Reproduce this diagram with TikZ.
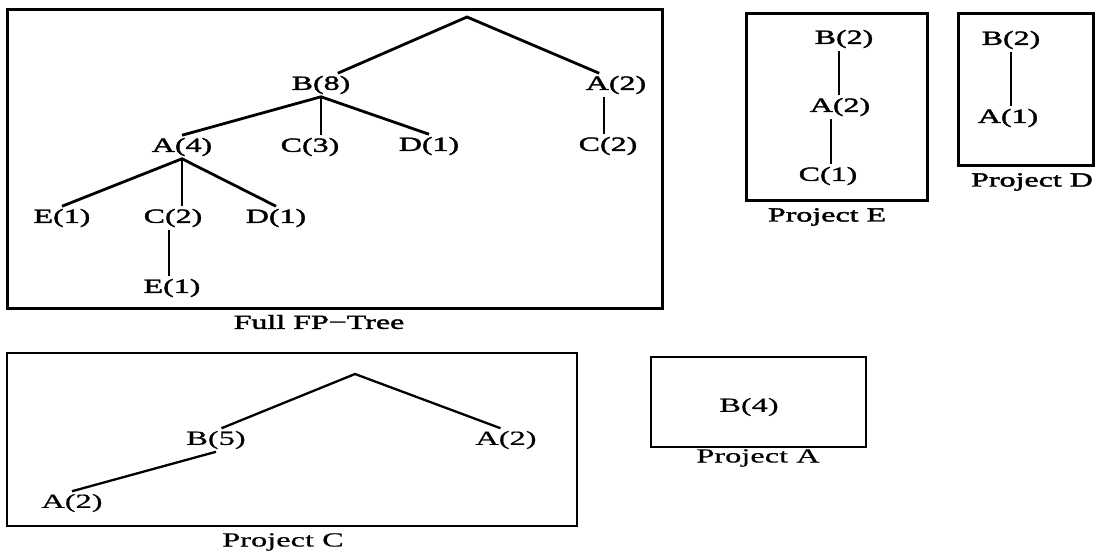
\documentclass[tikz,border=0pt]{standalone}
\usepackage{fontspec}
\setmainfont{Liberation Serif}
\newfontfamily\topfont[FakeStretch=1.6,FakeBold=2]{Liberation Serif}
\newfontfamily\botfont[FakeStretch=1.62,FakeBold=0.6]{Liberation Serif}
\begin{document}
\begin{tikzpicture}[x=1pt,y=-1pt,
  lbl/.style={font=\topfont\fontsize{20}{22}\selectfont, inner sep=2.5pt},
  lblb/.style={font=\botfont\fontsize{20}{22}\selectfont, inner sep=2.5pt},
  edge/.style={line width=2.8pt},
  edgethin/.style={line width=1.4pt},
  edgeb/.style={line width=2.3pt},
  frame/.style={draw, line width=3pt},
  frameb/.style={draw, line width=2.4pt}]
\useasboundingbox (0,0) rectangle (1097,555);

% ---------- Full FP-Tree ----------
\draw[frame] (7,9) rectangle (662,308);
\node[lbl] (tfull) at (319,322) {Full FP−Tree};
\coordinate (root) at (467,17);
\node[lbl] (b8) at (321,85) {B(8)};
\node[lbl] (a2r) at (616,85) {A(2)};
\node[lbl] (a4) at (182,147) {A(4)};
\node[lbl] (c3) at (310,147) {C(3)};
\node[lbl] (d1) at (429,146) {D(1)};
\node[lbl] (c2r) at (608,146) {C(2)};
\node[lbl] (e1) at (62,218) {E(1)};
\node[lbl] (c2) at (173,218) {C(2)};
\node[lbl] (d1b) at (276,218) {D(1)};
\node[lbl] (e1b) at (172,288) {E(1)};

\draw[edge] (b8.35) -- (root) -- (a2r.145);
\draw[edge] (a2r.south -| c2r.north) ++(-4,0) coordinate (a2s) -- (a2s |- c2r.north);
\draw[edge] (a4.north) -- (b8.south) -- (d1.north);
\draw[edge] (b8.south) -- (b8.south |- c3.north);
\draw[edge] (e1.north) -- (a4.south) -- (d1b.north);
\draw[edge] (a4.south) -- (a4.south |- c2.north);
\draw[edge] (c2.south) ++(-4,0) coordinate (c2s) -- (c2s |- e1b.north);

% ---------- Project E ----------
\draw[frame] (746,13) rectangle (927,200);
\node[lbl] (tpe) at (827,217) {Project E};
\node[lbl] (b2e) at (844,39) {B(2)};
\node[lbl] (a2e) at (840,107) {A(2)};
\node[lbl] (c1e) at (828,176) {C(1)};
\draw[edge] (a2e.north) ++(-1,0) coordinate (a2en) -- (a2en |- b2e.south);
\draw[edgethin] (c1e.north) ++(3,0) coordinate (c1en) -- (c1en |- a2e.south);

% ---------- Project D ----------
\draw[frame] (958,13) rectangle (1093,165);
\node[lbl] (tpd) at (1032,182) {Project D};
\node[lbl] (b2d) at (1011,40) {B(2)};
\node[lbl] (a1d) at (1008,118) {A(1)};
\draw[edge] (b2d.south) -- (b2d.south |- a1d.north);

% ---------- Project C ----------
\draw[frameb] (7,353) rectangle (577,526);
\node[lblb] (tpc) at (283,542) {Project C};
\coordinate (rootc) at (355,374);
\node[lblb] (b5) at (216,440) {B(5)};
\node[lblb] (a2c) at (506,440) {A(2)};
\node[lblb] (a2l) at (72,503) {A(2)};
\draw[edgeb] (b5.65) -- (rootc) -- (a2c.115);
\draw[edgeb] (b5.south) -- (a2l.north);

% ---------- Project A ----------
\draw[frameb] (651,357) rectangle (866,447);
\node[lblb] (tpa) at (758,458) {Project A};
\node[lblb] (b4) at (749,407) {B(4)};
\end{tikzpicture}
\end{document}
